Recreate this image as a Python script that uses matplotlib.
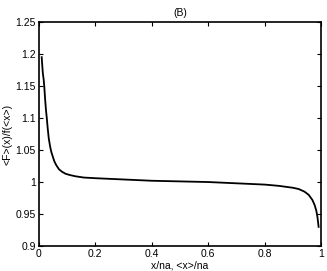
import matplotlib
matplotlib.use("Agg")
import matplotlib.pyplot as plt

x_vals = [0.011, 0.013, 0.015, 0.018, 0.020, 0.023, 0.026, 0.029, 0.032, 0.036, 0.041, 0.045,
          0.050, 0.056, 0.063, 0.072, 0.083, 0.095, 0.11, 0.13, 0.16, 0.2, 0.3, 0.4, 0.5,
          0.6, 0.7, 0.75, 0.8, 0.85, 0.9, 0.92, 0.94, 0.955, 0.968, 0.976, 0.982, 0.986, 0.99]
y_vals = [1.195, 1.182, 1.170, 1.160, 1.150, 1.130, 1.113, 1.100, 1.085, 1.068, 1.055, 1.047,
          1.040, 1.032, 1.026, 1.020, 1.016, 1.013, 1.011, 1.009, 1.007, 1.006, 1.004, 1.002, 1.001,
          1.000, 0.998, 0.997, 0.996, 0.994, 0.991, 0.989, 0.985, 0.980, 0.972, 0.964, 0.955, 0.945, 0.930]

xticks = [0, 0.2, 0.4, 0.6, 0.8, 1]
xticklabels = ["0", "0.2", "0.4", "0.6", "0.8", "1"]
yticks = [0.9, 0.95, 1.0, 1.05, 1.1, 1.15, 1.2, 1.25]
yticklabels = ["0.9", "0.95", "1", "1.05", "1.1", "1.15", "1.2", "1.25"]

plt.rcParams['font.family'] = ['Liberation Sans', 'DejaVu Sans']
fig = plt.figure(figsize=(3.27, 2.71), dpi=100)
ax = fig.add_axes([0.118, 0.092, 0.865, 0.827])
ax.plot(x_vals, y_vals, color='black', lw=1.3)
ax.set_xlim(0, 1)
ax.set_ylim(0.9, 1.25)
ax.set_xticks(xticks)
ax.set_xticklabels(xticklabels)
ax.set_yticks(yticks)
ax.set_yticklabels(yticklabels)
ax.tick_params(direction='in', top=True, right=True, labelsize=7.5, length=3, width=0.8, pad=2)
for s in ax.spines.values():
    s.set_linewidth(1.2)
ax.set_title("(B)", fontsize=7.5, pad=4)
ax.set_xlabel("x/na, <x>/na", fontsize=7.5, labelpad=1)
ax.set_ylabel("<F>(x)/f(<x>)", fontsize=7.5, labelpad=2)
fig.savefig("out.png", dpi=100)
